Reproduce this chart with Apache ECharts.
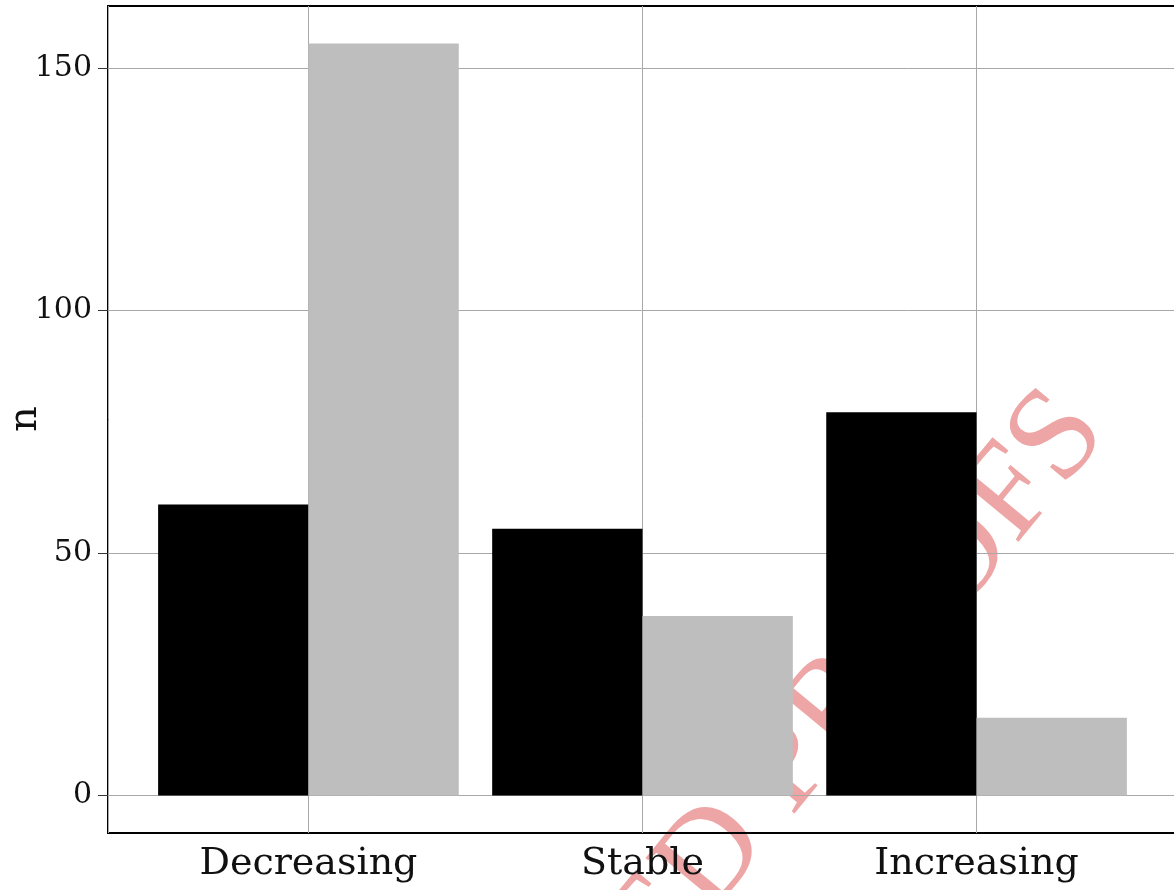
<!DOCTYPE html>
<html>
<head>
<meta charset="utf-8">
<script src="https://cdn.jsdelivr.net/npm/echarts@6/dist/echarts.min.js"></script>
<style>
html,body{margin:0;padding:0;background:#fff;}
#chart{width:1174px;height:890px;}
</style>
</head>
<body>
<div id="chart"></div>
<script>
// ---- data ----
const categories = ['Decreasing', 'Stable', 'Increasing'];
const seriesNames = ['Series 1', 'Series 2'];
const values1 = [60, 55, 79];    // black bars
const values2 = [155, 37, 16];   // grey bars
const yTicks = [0, 50, 100, 150];
const xTicks = [1, 2, 3];
const yTitle = 'n';

const FONT = 'DejaVu Serif';
const BAR_W = 0.45;

function barRender(offset, color) {
  return function (params, api) {
    const x = api.value(0), v = api.value(1);
    const p0 = api.coord([x + offset, v]);
    const p1 = api.coord([x + offset + BAR_W, 0]);
    return {
      type: 'rect',
      shape: { x: p0[0], y: p0[1], width: p1[0] - p0[0], height: p1[1] - p0[1] },
      style: { fill: color }
    };
  };
}

const chart = echarts.init(document.getElementById('chart'), null, { renderer: 'canvas' });
chart.setOption({
  backgroundColor: '#ffffff',
  animation: false,
  graphic: [{
    type: 'text',
    z: -10,
    x: 1133,
    y: 452,
    rotation: 50.5 * Math.PI / 180,
    style: {
      text: 'UNCORRECTED PROOFS',
      fontFamily: 'Liberation Serif',
      fontSize: 132,
      fontWeight: 'normal',
      fill: '#eea5a5',
      textAlign: 'right',
      textVerticalAlign: 'bottom'
    }
  }, {
    type: 'text',
    z: 10,
    x: 26,
    y: 419,
    rotation: Math.PI / 2,
    style: {
      text: yTitle,
      fontFamily: FONT,
      fontSize: 40,
      fill: '#111',
      textAlign: 'center',
      textVerticalAlign: 'middle'
    }
  }],
  grid: {
    left: 108, right: -3, top: 6, bottom: 57,
    outerBoundsMode: 'none',
    show: true, borderColor: '#000', borderWidth: 2, backgroundColor: 'transparent',
    containLabel: false
  },
  xAxis: {
    type: 'value',
    min: 0.4, max: 3.6,
    splitNumber: 3,
    axisLine: { show: false },
    axisTick: { show: false },
    splitLine: { show: true, lineStyle: { color: '#a8a8a8', width: 1 } },
    axisLabel: {
      customValues: xTicks,
      formatter: function (v) { const i = Math.round(v) - 1; return categories[i] || ''; },
      color: '#111', fontFamily: FONT, fontSize: 38, margin: 12
    }
  },
  yAxis: {
    type: 'value',
    min: -7.75, max: 162.75,
    splitNumber: 3,
    axisLine: { show: false },
    axisTick: { show: true, customValues: yTicks, length: 10, lineStyle: { color: '#333', width: 1 } },
    splitLine: { show: true, lineStyle: { color: '#a8a8a8', width: 1 } },
    axisLabel: {
      customValues: yTicks,
      color: '#111', fontFamily: FONT, fontSize: 30, margin: 16
    }
  },
  series: [
    {
      name: seriesNames[0], type: 'custom', z: 5,
      renderItem: barRender(-BAR_W, '#000000'),
      encode: { x: 0, y: 1 },
      data: categories.map((c, i) => [xTicks[i], values1[i]])
    },
    {
      name: seriesNames[1], type: 'custom', z: 5,
      renderItem: barRender(0, '#bebebe'),
      encode: { x: 0, y: 1 },
      data: categories.map((c, i) => [xTicks[i], values2[i]])
    }
  ]
});
</script>
</body>
</html>
